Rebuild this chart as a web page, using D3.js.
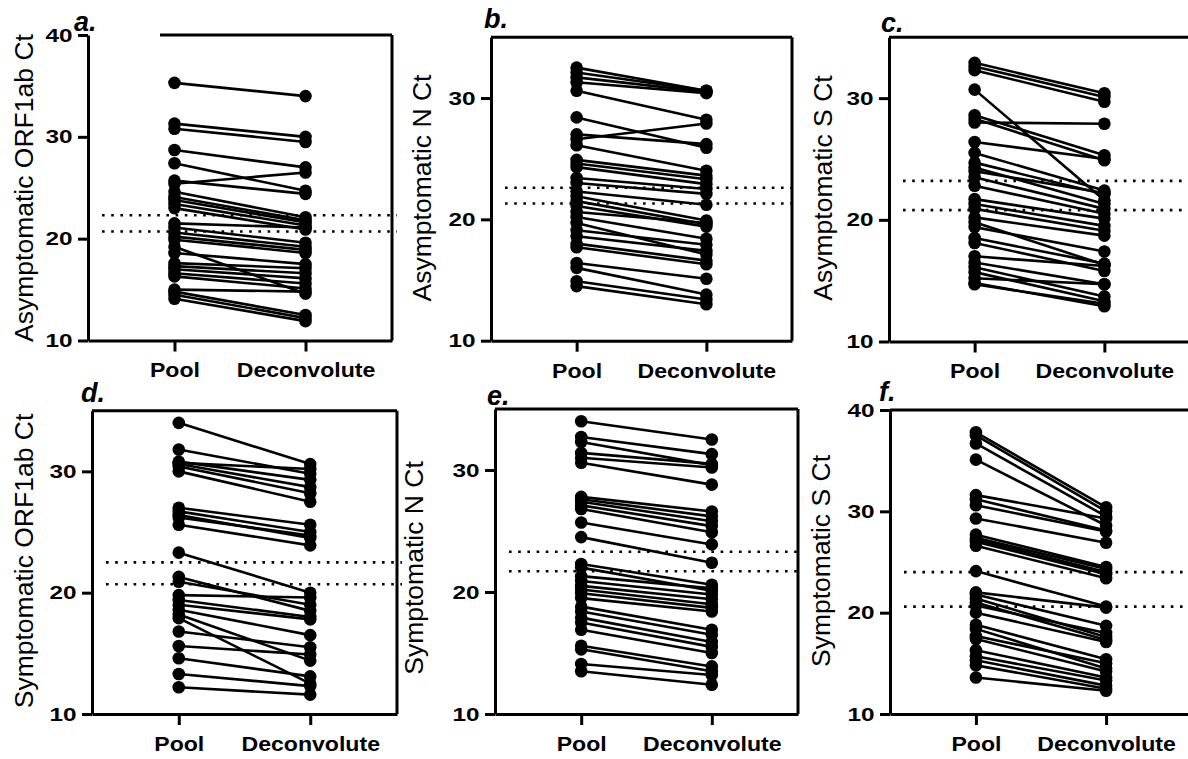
<!DOCTYPE html>
<html>
<head>
<meta charset="utf-8">
<script src="https://cdn.jsdelivr.net/npm/d3@7"></script>
<style>
  body { margin: 0; background: #fff; }
  svg { display: block; }
  text { font-family: "Liberation Sans", Arial, sans-serif; fill: #000; }
</style>
</head>
<body>
<div id="chart"></div>
<script>
const groups = ['Pool', 'Deconvolute'];

// a. Asymptomatic ORF1ab
const poolA  = [35.3, 31.3, 30.8, 28.7, 27.4, 25.7, 25.4, 24.6, 24.1, 23.8, 23.4, 23.0, 21.5, 21.1, 20.6, 20.2, 19.9, 19.2, 18.6, 17.6, 17.3, 17.0, 16.6, 16.3, 15.0, 14.8, 14.5, 14.1];
const deconA = [34.0, 30.0, 29.5, 27.0, 24.7, 24.4, 26.5, 22.1, 21.8, 21.6, 21.3, 20.9, 21.1, 19.6, 19.2, 18.9, 18.6, 14.6, 17.5, 17.1, 16.6, 16.1, 15.6, 15.1, 14.8, 12.5, 12.2, 11.9];
const cutoffA = [22.3, 20.7];

// b. Asymptomatic N
const poolB  = [32.5, 32.1, 31.7, 31.3, 30.6, 28.4, 27.0, 26.6, 26.1, 24.9, 24.6, 24.3, 23.4, 23.0, 22.3, 21.9, 21.5, 21.1, 20.6, 20.2, 19.7, 19.1, 18.6, 18.0, 17.7, 16.4, 16.0, 14.9, 14.5];
const deconB = [30.6, 30.6, 30.5, 30.4, 28.2, 25.9, 26.2, 27.9, 24.0, 23.6, 23.3, 22.9, 22.5, 22.1, 21.2, 19.9, 19.6, 19.4, 19.7, 18.4, 17.1, 17.9, 17.4, 16.6, 16.3, 15.1, 13.8, 13.4, 13.0];
const cutoffB = [22.6, 21.3];

// c. Asymptomatic S
const poolC  = [32.9, 32.6, 32.3, 30.7, 28.6, 28.3, 28.0, 26.4, 25.5, 24.7, 24.3, 24.0, 23.5, 22.8, 21.7, 21.3, 20.9, 20.2, 19.8, 19.4, 18.5, 18.1, 17.0, 16.5, 16.1, 15.7, 15.2, 14.8, 14.7];
const deconC = [30.4, 30.1, 29.7, 21.6, 25.3, 24.9, 27.9, 25.0, 22.4, 22.1, 21.3, 22.2, 20.9, 20.5, 20.1, 19.5, 19.1, 18.7, 16.3, 17.4, 16.4, 15.8, 16.2, 14.7, 13.7, 13.3, 14.7, 12.9, 13.1];
const cutoffC = [23.2, 20.8];

// d. Symptomatic ORF1ab
const poolD  = [34.0, 31.8, 30.8, 30.7, 30.6, 30.4, 30.0, 27.0, 26.7, 26.4, 26.2, 25.6, 23.3, 21.3, 20.9, 19.8, 19.4, 19.0, 18.6, 18.2, 17.9, 16.8, 15.6, 14.6, 13.3, 12.2];
const deconD = [30.6, 29.8, 29.3, 30.2, 28.7, 28.2, 27.5, 25.6, 25.0, 24.5, 24.7, 23.9, 20.0, 18.5, 19.0, 19.6, 18.0, 17.8, 16.5, 14.4, 12.5, 15.5, 14.9, 13.1, 12.3, 11.6];
const cutoffD = [22.5, 20.7];

// e. Symptomatic N
const poolE  = [34.0, 32.7, 32.3, 31.4, 31.0, 30.6, 27.8, 27.6, 27.4, 27.1, 26.8, 25.7, 24.5, 22.3, 22.0, 21.3, 20.9, 20.5, 20.2, 19.9, 19.5, 18.8, 18.4, 17.9, 17.5, 16.9, 15.6, 15.3, 14.1, 13.5];
const deconE = [32.5, 31.3, 30.4, 30.5, 30.2, 28.8, 26.6, 26.2, 25.8, 25.4, 24.9, 23.9, 22.4, 20.6, 20.1, 20.3, 19.8, 19.4, 19.0, 18.7, 18.4, 16.9, 16.5, 15.9, 15.5, 15.0, 13.9, 13.5, 13.2, 12.4];
const cutoffE = [23.3, 21.7];

// f. Symptomatic S
const poolF  = [37.8, 37.5, 36.7, 35.1, 31.6, 31.2, 30.6, 29.3, 27.7, 27.4, 27.2, 27.0, 26.6, 24.1, 22.0, 21.8, 21.4, 21.0, 20.7, 20.0, 18.8, 18.4, 17.7, 17.4, 16.3, 15.7, 15.3, 14.8, 13.6];
const deconF = [30.4, 30.0, 29.5, 28.6, 29.3, 28.1, 28.0, 26.9, 24.5, 24.3, 24.0, 23.8, 23.4, 20.6, 20.5, 18.7, 17.6, 17.3, 18.0, 17.1, 15.4, 14.5, 15.0, 14.2, 13.6, 13.3, 12.8, 12.5, 12.3];
const cutoffF = [24.0, 20.6];

const width = 1188, height = 759;

// panel layout (pixel boxes), values come from the arrays above
const panels = [
    { label: 'a.', title: 'Asymptomatic ORF1ab Ct', pool: poolA, decon: deconA, cutoffs: cutoffA, yMax: 40,
      x0: 88, x1: 392, yTop: 35, yBot: 340.5, topFrom: 160, titleX: 33, titleY: 188, labelX: 74, labelY: 31 },
    { label: 'b.', title: 'Asymptomatic N Ct', pool: poolB, decon: deconB, cutoffs: cutoffB, yMax: 35,
      x0: 491, x1: 792, yTop: 37.3, yBot: 340.7, titleX: 431, titleY: 188, labelX: 484, labelY: 28 },
    { label: 'c.', title: 'Asymptomatic S Ct', pool: poolC, decon: deconC, cutoffs: cutoffC, yMax: 35,
      x0: 889, x1: 1190, yTop: 37.3, yBot: 341.5, titleX: 832, titleY: 188, labelX: 881, labelY: 32 },
    { label: 'd.', title: 'Symptomatic ORF1ab Ct', pool: poolD, decon: deconD, cutoffs: cutoffD, yMax: 35,
      x0: 92, x1: 397, yTop: 410.7, yBot: 714, titleX: 33, titleY: 561, labelX: 81, labelY: 402 },
    { label: 'e.', title: 'Symptomatic N Ct', pool: poolE, decon: deconE, cutoffs: cutoffE, yMax: 35,
      x0: 495, x1: 798, yTop: 409, yBot: 714, titleX: 423, titleY: 568, labelX: 487, labelY: 405 },
    { label: 'f.', title: 'Symptomatic S Ct', pool: poolF, decon: deconF, cutoffs: cutoffF, yMax: 40,
      x0: 890, x1: 1192, yTop: 410, yBot: 714, titleX: 830, titleY: 561, labelX: 879, labelY: 401 }
];

const svg = d3.select('#chart')
    .append('svg')
    .attr('width', width)
    .attr('height', height);

panels.forEach(p => {
    const g = svg.append('g');

    const x = d3.scalePoint()
        .domain(groups)
        .range([p.x0, p.x1])
        .padding(0.66);

    const y = d3.scaleLinear()
        .domain([10, p.yMax])
        .range([p.yBot, p.yTop]);

    // dotted cutoff lines
    g.selectAll('.cutoff')
        .data(p.cutoffs)
        .enter().append('line')
        .attr('class', 'cutoff')
        .attr('x1', p.x0 + 14)
        .attr('x2', p.x1 + 5)
        .attr('y1', d => y(d))
        .attr('y2', d => y(d))
        .attr('stroke', '#000')
        .attr('stroke-width', 2.6)
        .attr('stroke-dasharray', '2.6,6.6');

    const pairs = p.pool.map((v, i) => [v, p.decon[i]]);

    // paired lines
    g.selectAll('.pair')
        .data(pairs)
        .enter().append('line')
        .attr('class', 'pair')
        .attr('x1', x('Pool'))
        .attr('x2', x('Deconvolute'))
        .attr('y1', d => y(d[0]))
        .attr('y2', d => y(d[1]))
        .attr('stroke', '#000')
        .attr('stroke-width', 2.6);

    // points
    const pts = [];
    pairs.forEach(d => {
        pts.push({ g: 'Pool', v: d[0] });
        pts.push({ g: 'Deconvolute', v: d[1] });
    });
    g.selectAll('.pt')
        .data(pts)
        .enter().append('circle')
        .attr('class', 'pt')
        .attr('cx', d => x(d.g))
        .attr('cy', d => y(d.v))
        .attr('r', 6.3)
        .attr('fill', '#000');

    // frame: top and right
    g.append('line')
        .attr('x1', p.topFrom || p.x0).attr('x2', p.x1)
        .attr('y1', p.yTop).attr('y2', p.yTop)
        .attr('stroke', '#000').attr('stroke-width', 3);
    g.append('line')
        .attr('x1', p.x1).attr('x2', p.x1)
        .attr('y1', p.yTop).attr('y2', p.yBot)
        .attr('stroke', '#000').attr('stroke-width', 3);

    // y axis
    const yAxis = g.append('g')
        .attr('transform', `translate(${p.x0},0)`)
        .call(d3.axisLeft(y)
            .tickValues(d3.range(10, p.yMax + 1, 10))
            .tickSize(10)
            .tickSizeOuter(0)
            .tickPadding(2));
    yAxis.select('.domain').attr('stroke-width', 3);
    yAxis.selectAll('.tick line').attr('stroke-width', 3);
    yAxis.selectAll('.tick text')
        .attr('font-size', 19)
        .attr('font-weight', 'bold')
        .attr('font-family', '"Liberation Sans", Arial, sans-serif')
        .attr('transform', 'scale(1.28,1)');

    // x axis
    const xAxis = g.append('g')
        .attr('transform', `translate(0,${p.yBot})`)
        .call(d3.axisBottom(x)
            .tickSize(11)
            .tickSizeOuter(0));
    xAxis.select('.domain').attr('stroke-width', 3);
    xAxis.selectAll('.tick line').attr('stroke-width', 3);
    xAxis.selectAll('.tick text')
        .attr('y', 37)
        .attr('dy', 0)
        .attr('font-size', 21)
        .attr('font-weight', 'bold')
        .attr('font-family', '"Liberation Sans", Arial, sans-serif')
        .attr('transform', 'scale(1.1,1)');

    // y title
    g.append('text')
        .attr('transform', `translate(${p.titleX},${p.titleY}) rotate(-90)`)
        .attr('text-anchor', 'middle')
        .attr('font-size', 26.5)
        .text(p.title);

    // panel letter
    g.append('text')
        .attr('x', p.labelX)
        .attr('y', p.labelY)
        .attr('font-size', 27)
        .attr('font-weight', 'bold')
        .attr('font-style', 'italic')
        .text(p.label);
});
</script>
</body>
</html>
